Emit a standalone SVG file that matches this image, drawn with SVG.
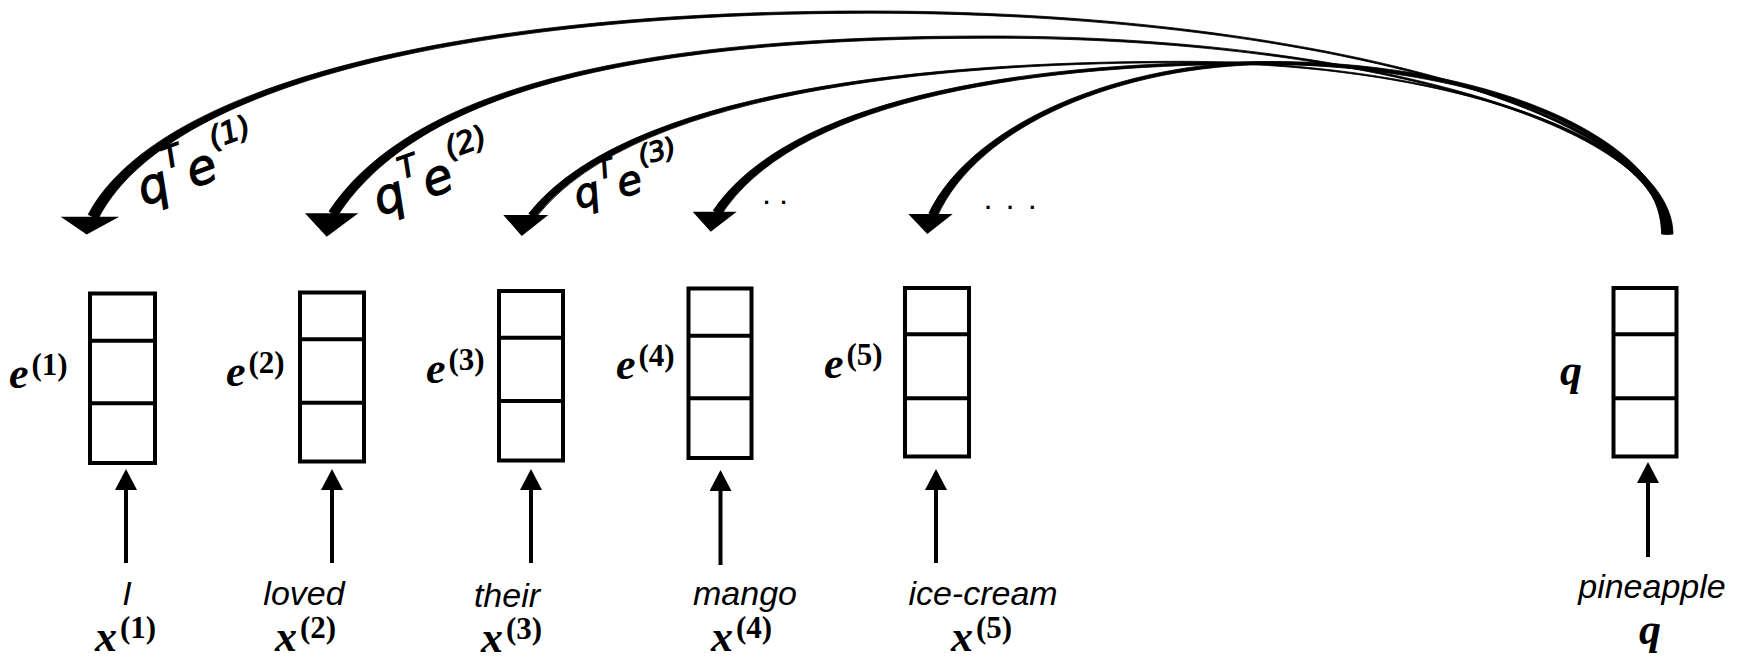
<svg xmlns="http://www.w3.org/2000/svg" width="1738" height="661" viewBox="0 0 1738 661">
<style>
.box{fill:#fff;stroke:#000;stroke-width:4}
.div{stroke:#000;stroke-width:4}
.arr{stroke:#000;stroke-width:4;fill:none}
.crv{fill:#000;stroke:#000;stroke-width:0.8;stroke-linejoin:round}
.ahd{fill:#000}
.word{font-family:"Liberation Sans",Arial,sans-serif;font-style:italic;font-size:34px;fill:#000;text-anchor:middle}
.mi{font-family:"Liberation Serif","Times New Roman",serif;font-weight:bold;font-style:italic;font-size:44px;fill:#000}
.ms{font-style:normal;font-size:31px}
.hw{font-family:"DejaVu Sans",sans-serif;font-style:italic;font-size:48px;fill:#000;stroke:#000;stroke-width:1.2}
.hs{font-size:30px}
.dots{font-family:"Liberation Sans",Arial,sans-serif;font-weight:bold;font-size:22px;fill:#000}
</style>
<defs>
<marker id="ah" viewBox="0 0 21 22" refX="0" refY="11" markerWidth="21" markerHeight="22" orient="auto" markerUnits="userSpaceOnUse">
<path d="M0,0 L21,11 L0,22 Z" fill="#000"/>
</marker>
</defs>
<rect width="1738" height="661" fill="#fff"/>

<g id="connectors">
<path class="crv" d="M1673,234 C1672,112 1309,11 870,11 C440,10.5 153.5,90.2 88.2,214.5 L97.8,219.5 C160.5,93.8 440,13.5 870,13.2 C1309,13 1667,112 1666,234 Z"/>
<path class="ahd" d="M60.7,216.7 L119.3,216.7 L86.7,234.5 Z"/>
<path class="crv" d="M1672.5,234 C1671.5,125.7 1363,36 990,36 C640,35.6 412.5,85.8 329,211.3 L337,216.7 C418.5,89.7 640,38.4 990,38.2 C1363,38 1666.5,125.7 1665.5,234 Z"/>
<path class="ahd" d="M305,213.3 L358.3,213.3 L326.7,236.7 Z"/>
<path class="crv" d="M1670.5,234 C1669.5,139.4 1448.4,61.3 1180,61.3 C980,61.2 635.4,79.2 528.8,213.5 L535.2,218.5 C639.4,82.3 980,62.8 1180,62.7 C1448.4,62.7 1664.5,139.4 1663.5,234 Z"/>
<path class="ahd" d="M503.3,215 L548.3,215 L521.7,236 Z"/>
<path class="crv" d="M1669.5,234 C1668.5,140 1483.5,61.8 1258,61.8 C1008,61.6 786,102.75 713.2,210.5 L720.8,215.5 C791,106.1 1008,64.4 1258,64.2 C1483.5,64.2 1663.5,140 1662.5,234 Z"/>
<path class="ahd" d="M692.7,211.7 L736.7,211.7 L710.7,231.7 Z"/>
<path class="crv" d="M1668.5,234 C1667.5,140 1490,61.5 1272,61.5 C1122,61.2 972.3,122.7 928.9,213.1 L937.1,216.9 C977.7,125.3 1122,64.8 1272,64.5 C1490,64.5 1662.5,140 1661.5,234 Z"/>
<path class="ahd" d="M908.3,214 L952.7,214 L927.3,234 Z"/>
<line class="arr" x1="126" y1="563" x2="126" y2="490" marker-end="url(#ah)"/>
<line class="arr" x1="332" y1="563" x2="332" y2="490" marker-end="url(#ah)"/>
<line class="arr" x1="531" y1="563" x2="531" y2="490" marker-end="url(#ah)"/>
<line class="arr" x1="720.5" y1="565" x2="720.5" y2="491" marker-end="url(#ah)"/>
<line class="arr" x1="936" y1="563" x2="936" y2="490" marker-end="url(#ah)"/>
<line class="arr" x1="1648" y1="557" x2="1648" y2="483" marker-end="url(#ah)"/>
</g>

<g id="score-labels">
<text class="hw" transform="translate(144,206) rotate(-20)">q<tspan class="hs" dx="3" dy="-27">T</tspan><tspan dy="27">e</tspan><tspan class="hs" dy="-30" dx="3">(1)</tspan></text>
<text class="hw" transform="translate(380,216) rotate(-20)">q<tspan class="hs" dx="3" dy="-27">T</tspan><tspan dy="27">e</tspan><tspan class="hs" dy="-30" dx="3">(2)</tspan></text>
<text class="hw" style="font-size:40px" transform="translate(578,209) rotate(-15)">q<tspan class="hs" dx="3" dy="-23" style="font-size:26px">T</tspan><tspan dy="23">e</tspan><tspan class="hs" dy="-26" dx="3" style="font-size:27px">(3)</tspan></text>
<text class="dots" x="763.5" y="204" letter-spacing="11">..</text>
<text class="dots" x="985" y="208.5" letter-spacing="16">...</text>
</g>

<g id="node-e1">
<rect class="box" x="90" y="293.5" width="65" height="169.5"/>
<line class="div" x1="90" y1="340.7" x2="155" y2="340.7"/>
<line class="div" x1="90" y1="403.3" x2="155" y2="403.3"/>
<text class="mi" x="9" y="388">e<tspan class="ms" dx="3" dy="-13">(1)</tspan></text>
</g>
<g id="node-e2">
<rect class="box" x="300" y="292.5" width="64" height="169"/>
<line class="div" x1="300" y1="339.3" x2="364" y2="339.3"/>
<line class="div" x1="300" y1="402.7" x2="364" y2="402.7"/>
<text class="mi" x="226" y="386">e<tspan class="ms" dx="3" dy="-13">(2)</tspan></text>
</g>
<g id="node-e3">
<rect class="box" x="499" y="291" width="64" height="169.5"/>
<line class="div" x1="499" y1="337.7" x2="563" y2="337.7"/>
<line class="div" x1="499" y1="401" x2="563" y2="401"/>
<text class="mi" x="426" y="383">e<tspan class="ms" dx="3" dy="-13">(3)</tspan></text>
</g>
<g id="node-e4">
<rect class="box" x="688.5" y="288.5" width="63" height="169.5"/>
<line class="div" x1="688.5" y1="335.7" x2="751.5" y2="335.7"/>
<line class="div" x1="688.5" y1="398.3" x2="751.5" y2="398.3"/>
<text class="mi" x="616" y="379">e<tspan class="ms" dx="3" dy="-13">(4)</tspan></text>
</g>
<g id="node-e5">
<rect class="box" x="905" y="288" width="64" height="168.5"/>
<line class="div" x1="905" y1="334.3" x2="969" y2="334.3"/>
<line class="div" x1="905" y1="398.3" x2="969" y2="398.3"/>
<text class="mi" x="824" y="378">e<tspan class="ms" dx="3" dy="-13">(5)</tspan></text>
</g>
<g id="node-q">
<rect class="box" x="1613.5" y="288" width="63" height="168.5"/>
<line class="div" x1="1613.5" y1="334.3" x2="1676.5" y2="334.3"/>
<line class="div" x1="1613.5" y1="398.3" x2="1676.5" y2="398.3"/>
<text class="mi" x="1560" y="385">q</text>
</g>

<g id="input-1"><text class="word" x="127" y="605">I</text><text class="mi" x="95" y="651">x<tspan class="ms" dx="3" dy="-13">(1)</tspan></text></g>
<g id="input-2"><text class="word" x="304" y="605">loved</text><text class="mi" x="275" y="651">x<tspan class="ms" dx="3" dy="-13">(2)</tspan></text></g>
<g id="input-3"><text class="word" x="507" y="607">their</text><text class="mi" x="481" y="652">x<tspan class="ms" dx="3" dy="-13">(3)</tspan></text></g>
<g id="input-4"><text class="word" x="745" y="605">mango</text><text class="mi" x="711" y="651">x<tspan class="ms" dx="3" dy="-13">(4)</tspan></text></g>
<g id="input-5"><text class="word" x="983" y="605">ice-cream</text><text class="mi" x="951" y="651">x<tspan class="ms" dx="3" dy="-13">(5)</tspan></text></g>
<g id="input-q"><text class="word" x="1652" y="598">pineapple</text><text class="mi" x="1639" y="644">q</text></g>
</svg>
